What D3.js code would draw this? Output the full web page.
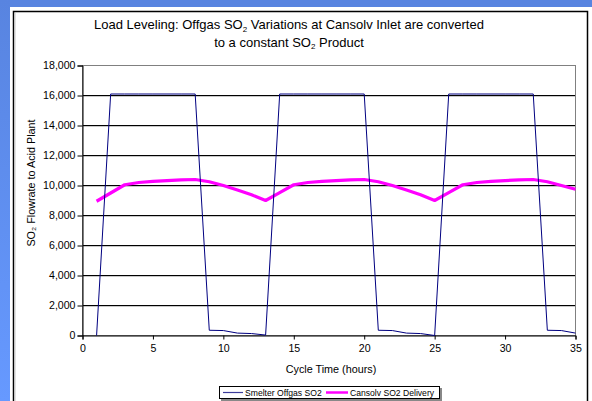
<!DOCTYPE html>
<html><head><meta charset="utf-8">
<script src="https://cdn.jsdelivr.net/npm/d3@7"></script>
<style>html,body{margin:0;padding:0;background:#fff;}svg{display:block;}</style>
</head><body>
<script>
// ---- data ----
const hours = [1,2,3,4,5,6,7,8,9,10,11,12,13,14,15,16,17,18,19,20,21,22,23,24,25,26,27,28,29,30,31,32,33,34,35];
const smelterOffgas = [0,16100,16100,16100,16100,16100,16100,16100,350,330,160,130,30,
  16100,16100,16100,16100,16100,16100,16100,350,330,160,130,0,
  16100,16100,16100,16100,16100,16100,16100,350,330,160];
const cansolvDelivery = [8950,9500,10050,10200,10280,10330,10370,10400,10250,10000,9700,9380,9000,
  9530,10050,10200,10280,10330,10370,10400,10250,10000,9700,9380,9000,
  9530,10050,10200,10280,10330,10370,10400,10250,10000,9750];
const yTicks = [0,2000,4000,6000,8000,10000,12000,14000,16000,18000];
const xTicks = [0,5,10,15,20,25,30,35];
const seriesNames = ["Smelter Offgas SO2","Cansolv SO2 Delivery"];

const W=592,H=401;
const svg=d3.select("body").append("svg").attr("width",W).attr("height",H);
const font="Liberation Sans, Arial, sans-serif";

// background frame
const defs=svg.append("defs");
const g1=defs.append("linearGradient").attr("id","bg").attr("x1",0).attr("y1",0).attr("x2",0).attr("y2",1);
g1.append("stop").attr("offset","0%").attr("stop-color","#5884e0");
g1.append("stop").attr("offset","100%").attr("stop-color","#6699ff");
svg.append("rect").attr("x",0).attr("y",0).attr("width",W).attr("height",7).attr("fill","#5884e0");
svg.append("rect").attr("x",0).attr("y",0).attr("width",10).attr("height",H).attr("fill","url(#bg)");
// panel border (top, left, right)
svg.append("path").attr("d","M13.5,401 V11.5 H587.5 V401").attr("fill","none").attr("stroke","#000").attr("stroke-width",1.5);
svg.append("path").attr("d","M15,401 V13").attr("stroke","#c8c8c8").attr("stroke-width",1);

const x=d3.scaleLinear().domain([0,35]).range([82.5,575.5]);
const y=d3.scaleLinear().domain([0,18000]).range([335.5,65.5]);

// gridlines
const grid=svg.append("g");
yTicks.filter(v=>v>0 && v<18000).forEach(v=>{
  grid.append("line").attr("x1",x(0)).attr("x2",x(35)).attr("y1",y(v)+1).attr("y2",y(v)+1).attr("stroke","#c8c8c8");
  grid.append("line").attr("x1",x(0)).attr("x2",x(35)).attr("y1",y(v)).attr("y2",y(v)).attr("stroke","#000");
});
// plot border
svg.append("rect").attr("x",x(0)).attr("y",y(18000)).attr("width",x(35)-x(0)).attr("height",y(0)-y(18000))
  .attr("fill","none").attr("stroke","#808080");

// axes
const yAxis=svg.append("g").attr("transform",`translate(${x(0)},0)`)
  .call(d3.axisLeft(y).tickValues(yTicks).tickSize(5).tickPadding(2).tickFormat(d3.format(",")));
const xAxis=svg.append("g").attr("transform",`translate(0,${y(0)})`)
  .call(d3.axisBottom(x).tickValues(xTicks).tickSize(4).tickPadding(5).tickFormat(d3.format("d")));
[yAxis,xAxis].forEach(a=>{
  a.selectAll("path").attr("stroke","#000");
  a.selectAll("line").attr("stroke","#000");
  a.selectAll("text").attr("font-family",font).attr("font-size","10.6px").attr("fill","#000");
});

// series
const line=(vals)=>d3.line().x((d,i)=>x(hours[i])).y(d=>y(d))(vals);
svg.append("path").attr("d",line(cansolvDelivery)).attr("fill","none").attr("stroke","#ff00ff").attr("stroke-width",3.2).attr("stroke-linejoin","round");
svg.append("path").attr("d",line(smelterOffgas)).attr("fill","none").attr("stroke","#000080").attr("stroke-width",1);

// title (two separate lines)
const t1=svg.append("text").attr("text-anchor","middle").attr("font-family",font).attr("font-size","13px").attr("x",289).attr("y",29);
t1.append("tspan").text("Load Leveling: Offgas SO");
t1.append("tspan").attr("font-size","8px").attr("dy",2.5).text("2");
t1.append("tspan").attr("dy",-2.5).text(" Variations at Cansolv Inlet are converted");
const t2=svg.append("text").attr("text-anchor","middle").attr("font-family",font).attr("font-size","13px").attr("x",289).attr("y",46.5);
t2.append("tspan").text("to a constant SO");
t2.append("tspan").attr("font-size","8px").attr("dy",2.5).text("2");
t2.append("tspan").attr("dy",-2.5).text(" Product");

// y-axis title
svg.append("text").attr("transform","translate(35,183) rotate(-90)").attr("text-anchor","middle")
  .attr("font-family",font).attr("font-size","10.8px").text("SO₂ Flowrate to Acid Plant");
// x-axis title
svg.append("text").attr("x",331).attr("y",373).attr("text-anchor","middle")
  .attr("font-family",font).attr("font-size","10.8px").text("Cycle Time (hours)");

// legend
const lg=svg.append("g");
lg.append("rect").attr("x",221).attr("y",388).attr("width",221).attr("height",13).attr("fill","#888");
lg.append("rect").attr("x",219.5).attr("y",386.5).attr("width",220).attr("height",12).attr("fill","#fff").attr("stroke","#000");
const items=[{n:seriesNames[0],c:"#3c3c9c",w:1.2,x0:223,x1:243,tx:245},{n:seriesNames[1],c:"#ff00ff",w:2.5,x0:326,x1:348,tx:350}];
items.forEach(it=>{
  lg.append("line").attr("x1",it.x0).attr("x2",it.x1).attr("y1",392.5).attr("y2",392.5).attr("stroke",it.c).attr("stroke-width",it.w);
  lg.append("text").attr("x",it.tx).attr("y",396).attr("font-family",font).attr("font-size","8.6px").text(it.n);
});
</script>
</body></html>
